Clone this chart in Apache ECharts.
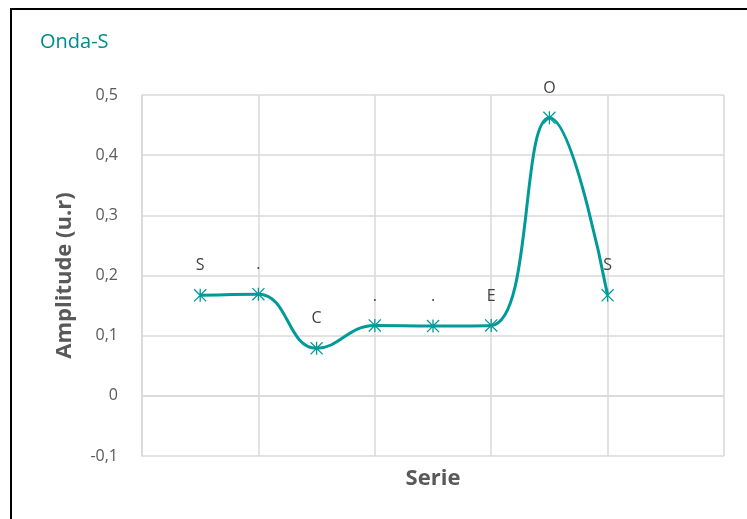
<!DOCTYPE html>
<html>
<head>
<meta charset="utf-8">
<script src="https://cdn.jsdelivr.net/npm/echarts@6/dist/echarts.min.js"></script>
<style>
html,body{margin:0;padding:0;background:#fff;}
#frame{position:absolute;left:10px;top:8px;width:760px;height:540px;border-top:2px solid #000;border-left:2px solid #000;box-sizing:border-box;}
#chart{position:absolute;left:0;top:0;width:747px;height:519px;}
</style>
</head>
<body>
<div id="frame"></div>
<div id="chart"></div>
<script>
const xPositions = [1, 2, 3, 4, 5, 6, 7, 8];
const amplitudes = [0.167, 0.169, 0.079, 0.117, 0.116, 0.117, 0.462, 0.167];
const pointLabels = ['S', '.', 'C', '.', '.', 'E', 'O', 'S'];
const yTicks = { min: -0.1, max: 0.5, step: 0.1 };
const xRange = { min: 0, max: 10, step: 2 };

const teal = '#009a99';
const asterisk = 'path://M9,0 H11 V20 H9 Z M0,1.4 L1.4,0 L20,18.6 L18.6,20 Z M18.6,0 L20,1.4 L1.4,20 L0,18.6 Z';

const chart = echarts.init(document.getElementById('chart'), null, {renderer: 'canvas'});
chart.setOption({
  animation: false,
  title: {
    text: 'Onda-S', left: 35, top: 27,
    textStyle: {fontFamily: 'Open Sans', fontSize: 20, fontWeight: 'normal', color: '#008b8b'}
  },
  grid: {left: 142, right: 23, top: 95, bottom: 63},
  xAxis: {
    type: 'value', min: xRange.min, max: xRange.max, interval: xRange.step,
    name: 'Serie', nameLocation: 'middle', nameGap: 12,
    nameTextStyle: {fontFamily: 'Open Sans', fontSize: 22, fontWeight: 'bold', color: '#595959', verticalAlign: 'top'},
    axisLabel: {show: false}, axisTick: {show: false},
    axisLine: {show: true, lineStyle: {color: '#d9d9d9', width: 1.5}},
    splitLine: {show: true, lineStyle: {color: '#d9d9d9', width: 1.5}}
  },
  yAxis: {
    type: 'value', min: yTicks.min, max: yTicks.max, interval: yTicks.step,
    name: 'Amplitude (u.r)', nameLocation: 'middle', nameGap: 66,
    nameTextStyle: {fontFamily: 'Open Sans', fontSize: 22, fontWeight: 'bold', color: '#595959'},
    axisLine: {show: true, lineStyle: {color: '#d9d9d9', width: 1.5}},
    axisTick: {show: false},
    axisLabel: {
      fontFamily: 'Open Sans', fontSize: 16, color: '#595959', margin: 24,
      formatter: v => { const r = Math.round(v * 10) / 10; return r === 0 ? '0' : String(r).replace('.', ','); }
    },
    splitLine: {show: true, lineStyle: {color: '#d9d9d9', width: 1.5}}
  },
  series: [{
    type: 'line',
    data: xPositions.map((x, i) => [x, amplitudes[i]]),
    smooth: 0.45,
    symbol: asterisk, symbolSize: 13,
    itemStyle: {color: teal},
    lineStyle: {color: teal, width: 3},
    label: {
      show: true, position: 'top', distance: 15,
      fontFamily: 'Open Sans', fontSize: 16, color: '#404040',
      formatter: p => pointLabels[p.dataIndex]
    }
  }]
});
</script>
</body>
</html>
